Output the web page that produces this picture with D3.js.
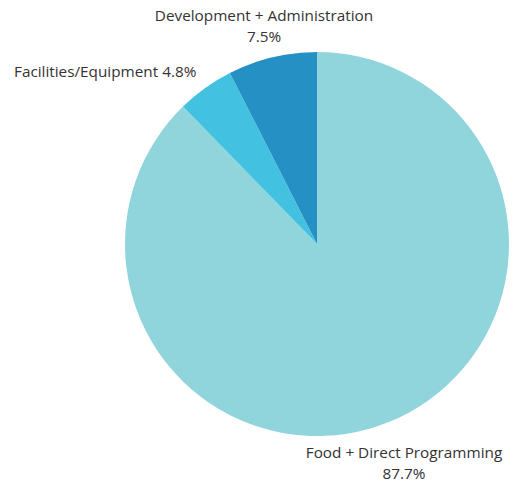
<!DOCTYPE html>
<html><head><meta charset="utf-8">
<script src="https://cdn.jsdelivr.net/npm/d3@7"></script>
<style>body{margin:0;background:#fff}svg{display:block}text{font-family:"Open Sans",sans-serif;font-size:15.3px;fill:#333}</style>
</head><body>
<script>
const categories = ["Food + Direct Programming", "Facilities/Equipment", "Development + Administration"];
const values = [87.7, 4.8, 7.5];
const colors = ["#91d5dc", "#42c2e0", "#2490c4"];

const W = 514, H = 483, cx = 317, cy = 244, R = 192;
const svg = d3.select("body").append("svg").attr("width", W).attr("height", H);
const g = svg.append("g").attr("transform", `translate(${cx},${cy})`);
const pie = d3.pie().sort(null).value(d => d)(values);
const arc = d3.arc().innerRadius(0).outerRadius(R);
g.selectAll("path").data(pie).join("path").attr("d", arc).attr("fill", (d, i) => colors[i]);

const fmt = v => v.toFixed(1) + "%";
const labels = [
  {lines: [categories[0], fmt(values[0])], x: 404, y: 458, anchor: "middle"},
  {lines: [categories[1] + " " + fmt(values[1])], x: 14, y: 77, anchor: "start"},
  {lines: [categories[2], fmt(values[2])], x: 264, y: 21, anchor: "middle"}
];
labels.forEach(l => {
  const t = svg.append("text").attr("text-anchor", l.anchor);
  l.lines.forEach((s, i) => t.append("tspan").attr("x", l.x).attr("y", l.y + i * 21).text(s));
});
</script>
</body></html>
